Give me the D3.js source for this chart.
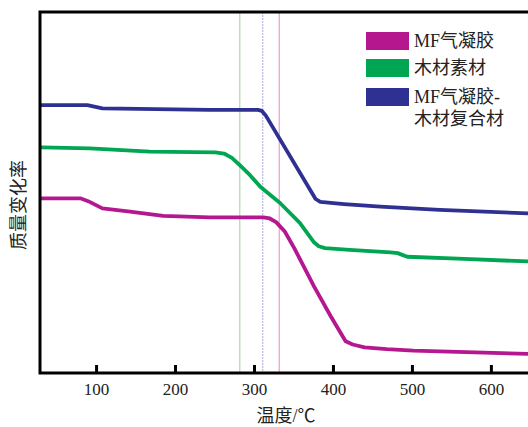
<!DOCTYPE html>
<html>
<head>
<meta charset="utf-8">
<script src="https://cdn.jsdelivr.net/npm/d3@7"></script>
<style>
  body { margin: 0; background: #fff; }
  svg { display: block; }
  text { font-family: "Liberation Serif", "Noto Sans CJK SC", serif; fill: #222; }
</style>
</head>
<body>
<svg id="chart" width="528" height="427"></svg>
<script>
// temperature (°C) and relative mass change (arbitrary, curves are offset)
var mfTemp   = [31, 80, 90, 108, 143, 185, 244, 312, 320, 328, 339, 351, 376, 397, 416, 425, 440, 468, 502, 647];
var mfMass   = [48.4, 48.4, 47.6, 45.6, 44.7, 43.5, 43.1, 43.1, 42.8, 41.8, 39.2, 34.6, 24.0, 15.8, 8.8, 7.9, 7.1, 6.6, 6.2, 5.3];

var woodTemp = [31, 92, 168, 251, 262, 272, 282, 295, 308, 333, 358, 376, 382, 390, 421, 473, 482, 494, 566, 647];
var woodMass = [62.5, 62.2, 61.3, 61.1, 60.8, 59.6, 57.6, 54.8, 51.6, 47.1, 41.6, 36.2, 35.1, 34.6, 34.1, 33.4, 33.2, 32.2, 31.6, 30.9];

var compTemp = [31, 89, 108, 244, 305, 310, 315, 378, 384, 414, 460, 535, 647];
var compMass = [74.2, 74.2, 73.3, 72.9, 72.9, 72.6, 71.3, 48.2, 47.4, 46.8, 46.1, 45.2, 44.2];

var seriesNames  = ["MF气凝胶", "木材素材", "MF气凝胶-|木材复合材"];
var seriesColors = ["#b5178f", "#00a651", "#2e3192"];
var markerTemps  = [282, 311, 332];
var markerColors = ["#a8dca8", "#b8b8e6", "#f29ad0"];
var xTicks = [100, 200, 300, 400, 500, 600];

var svg = d3.select("#chart");
var plotLeft = 40, plotTop = 12, plotRight = 528, plotBottom = 373;

var x = d3.scaleLinear().domain([29, 647]).range([plotLeft, plotRight]);
var y = d3.scaleLinear().domain([0, 100]).range([plotBottom, plotTop]);

svg.append("clipPath").attr("id", "plotClip")
    .append("rect").attr("x", plotLeft).attr("y", plotTop)
    .attr("width", plotRight - plotLeft).attr("height", plotBottom - plotTop);

var plot = svg.append("g").attr("clip-path", "url(#plotClip)");

// thin vertical guide lines
plot.selectAll("line.marker")
    .data(markerTemps)
    .enter().append("line")
    .attr("class", "marker")
    .attr("x1", function(d) { return x(d); })
    .attr("x2", function(d) { return x(d); })
    .attr("y1", plotTop)
    .attr("y2", plotBottom)
    .attr("stroke", function(d, i) { return markerColors[i]; })
    .attr("stroke-width", 1.2)
    .attr("stroke-dasharray", function(d, i) { return i === 1 ? "2,1" : null; });

var series = [
    { t: mfTemp, m: mfMass },
    { t: woodTemp, m: woodMass },
    { t: compTemp, m: compMass }
];

var line = d3.line()
    .x(function(d) { return x(d[0]); })
    .y(function(d) { return y(d[1]); });

plot.selectAll("path.curve")
    .data(series)
    .enter().append("path")
    .attr("class", "curve")
    .attr("d", function(s) { return line(d3.zip(s.t, s.m)); })
    .attr("fill", "none")
    .attr("stroke", function(d, i) { return seriesColors[i]; })
    .attr("stroke-width", 3.8)
    .attr("stroke-linejoin", "round")
    .attr("stroke-linecap", "round");

// axes
var xAxis = d3.axisBottom(x).tickValues(xTicks).tickSize(-8).tickPadding(10).tickFormat(d3.format("d"));
var gx = svg.append("g").attr("transform", "translate(0," + plotBottom + ")").call(xAxis);
gx.select(".domain").remove();
gx.selectAll(".tick line").attr("stroke", "#000").attr("stroke-width", 3);
gx.selectAll(".tick text")
    .style("font-family", "'Liberation Serif', serif")
    .style("font-size", "17px")
    .attr("fill", "#222");

// frame: left, top, bottom
svg.append("path")
    .attr("d", "M" + plotRight + "," + plotTop + "H" + plotLeft + "V" + plotBottom + "H" + plotRight)
    .attr("fill", "none")
    .attr("stroke", "#000")
    .attr("stroke-width", 3);

// axis titles
svg.append("text")
    .attr("x", 286)
    .attr("y", 422)
    .attr("text-anchor", "middle")
    .attr("font-size", 18)
    .text("温度/℃");

svg.append("text")
    .attr("transform", "translate(25,205) rotate(-90)")
    .attr("text-anchor", "middle")
    .attr("font-size", 18)
    .text("质量变化率");

// legend
var legendY = [32, 59, 88];
var legend = svg.append("g");
legend.selectAll("rect")
    .data(seriesNames)
    .enter().append("rect")
    .attr("x", 366)
    .attr("y", function(d, i) { return legendY[i]; })
    .attr("width", 43)
    .attr("height", 18)
    .attr("fill", function(d, i) { return seriesColors[i]; });

legend.selectAll("text")
    .data(seriesNames)
    .enter().append("text")
    .attr("x", 414)
    .attr("y", function(d, i) { return legendY[i] + 15; })
    .attr("font-size", 18)
    .each(function(d) {
        var parts = d.split("|");
        var t = d3.select(this);
        parts.forEach(function(p, k) {
            t.append("tspan").attr("x", 414).attr("dy", k === 0 ? 0 : 22).text(p);
        });
    });
</script>
</body>
</html>
